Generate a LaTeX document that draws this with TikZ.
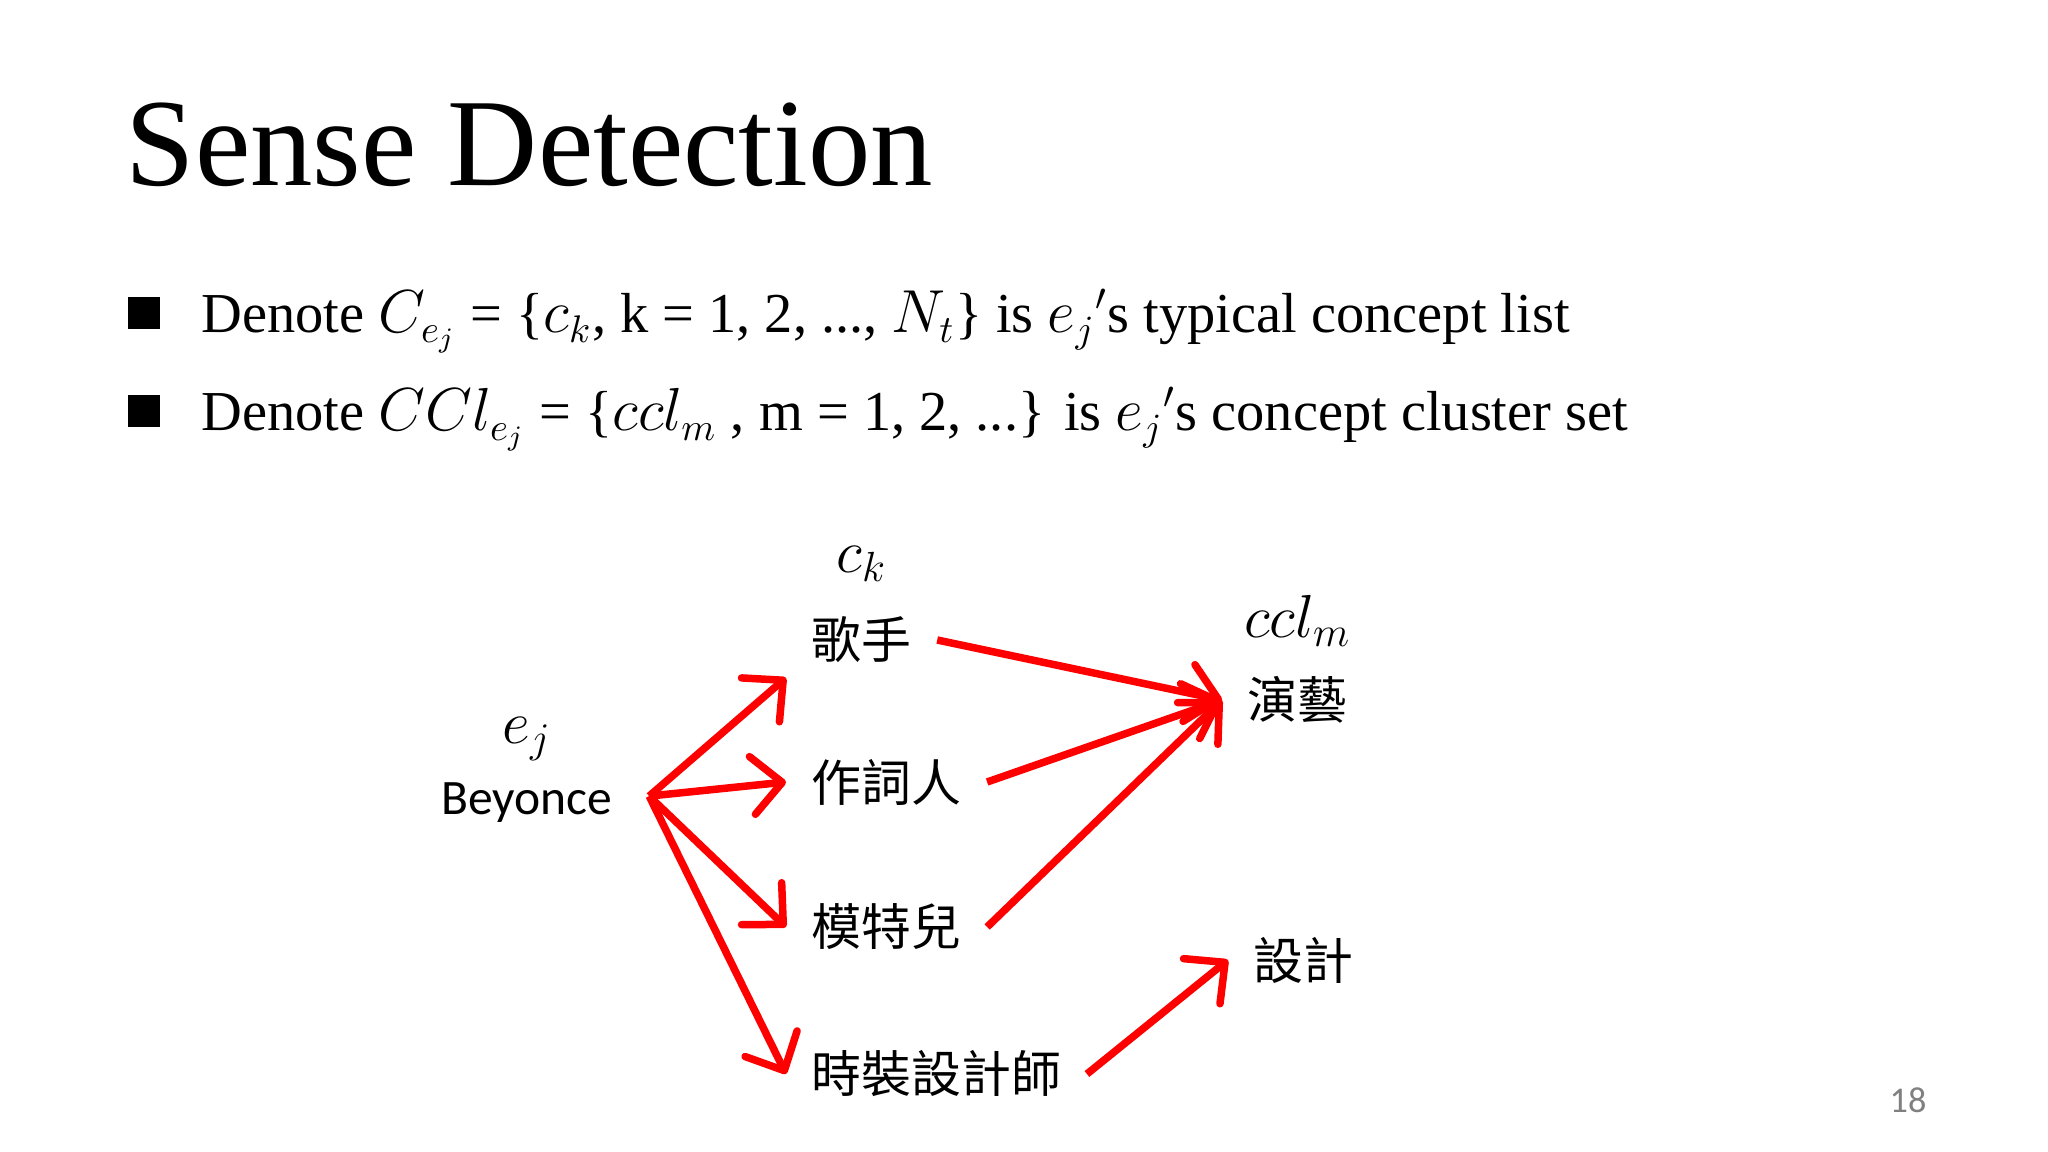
\documentclass[tikz,border=0pt]{standalone}
\usepackage{fontspec}
\setmainfont{Liberation Serif}
\newfontfamily\cjkfont{Noto Sans CJK TC}
\newfontfamily\calfont{Carlito}
\usetikzlibrary{positioning}
\usetikzlibrary{arrows.meta}
\tikzset{cjk node/.style={anchor=west,
    inner xsep=0.25cm, inner ysep=0.14cm,
    font=\cjkfont\fontsize{14.2}{16}\selectfont}}
\tikzset{var node/.style={inner sep=0pt,
    font=\fontsize{17}{20}\selectfont}}
\tikzset{item text/.style={anchor=base west, inner sep=0pt,
    font=\fontsize{16.05}{19}\selectfont}}
\tikzset{item mark/.style={fill=black, inner sep=0pt, minimum size=0.32cm}}
\tikzset{link/.style={draw=red, line width=0.075cm,
    -{Straight Barb[length=0.3cm,width=0.58cm,round]}}}

\begin{document}
\begin{tikzpicture}
    \useasboundingbox[fill=white] (0,0) rectangle (20.48,-11.52);

    \node[anchor=base west, inner sep=0pt, font=\fontsize{35.5}{40}\selectfont] (title) at (1.25,-1.86) {Sense Detection};

    \node[item mark] (m1) at (1.44,-3.13) {};
    \node[item mark] (m2) at (1.44,-4.11) {};
    \node[item text] (t1) at (2.01,-3.33) {Denote $C_{e_j}$ = \{$c_k$, k = 1, 2, ..., $N_t$\} is ${e_j}'$s typical concept list};
    \node[item text] (t2) at (2.01,-4.31) {Denote $CCl_{e_j}$ = \{$ccl_m$ , m = 1, 2, ...\} is ${e_j}'$s concept cluster set};

    \node[anchor=base, inner sep=0pt, font=\calfont\fontsize{14.1}{16}\selectfont] (bey) at (5.27,-8.14) {Beyonce};
    \node[var node] (ej) [above = 0.2cm of bey] {$e_j$};
    \coordinate (src) at ([xshift=0.36cm,yshift=0.06cm]bey.east);

    \node[cjk node] (gs) at (7.86,-6.40) {歌手};
    \node[cjk node] (zc) at (7.86,-7.82) {作詞人};
    \node[cjk node] (mt) at (7.86,-9.27) {模特兒};
    \node[cjk node] (sz) at (7.86,-10.74) {時裝設計師};
    \node[var node] (ck) [above = 0.2cm of gs] {$c_k$};

    \node[cjk node] (yy) at (12.22,-7.00) {演藝};
    \node[cjk node] (sj) at (12.28,-9.60) {設計};
    \node[var node] (ccl) [above = 0.15cm of yy] {$ccl_m$};

    \node[font=\calfont\fontsize{10.3}{12}\selectfont, text=gray] (pg) at (19.08,-11.00) {18};

    \path
    (src) edge[link] (gs.south west)
    (src) edge[link] (zc.west)
    (src) edge[link] (mt.west)
    (src) edge[link] (sz.west)

    (gs.east) edge[link] (yy.west)
    (zc.east) edge[link] (yy.west)
    (mt.east) edge[link] (yy.west)
    (sz.east) edge[link] (sj.west)
    ;
\end{tikzpicture}
\end{document}
